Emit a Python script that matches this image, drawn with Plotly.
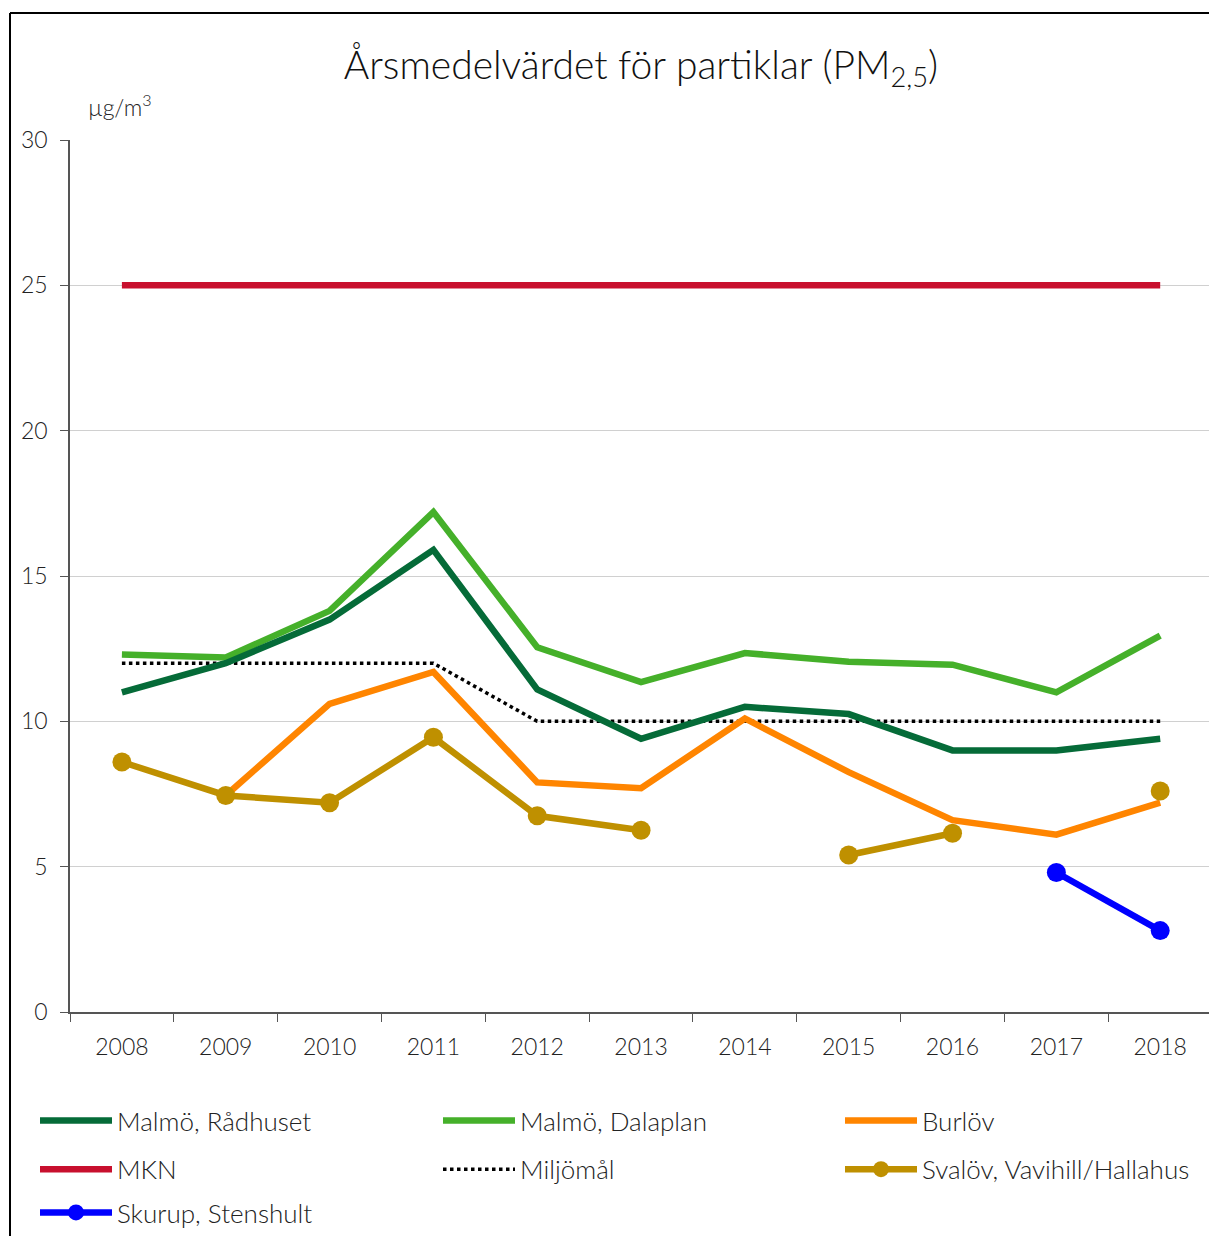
import plotly.graph_objects as go

years = ["2008", "2009", "2010", "2011", "2012", "2013", "2014", "2015", "2016", "2017", "2018"]
radhuset = [11.0, 12.0, 13.5, 15.9, 11.1, 9.4, 10.5, 10.25, 9.0, 9.0, 9.4]
dalaplan = [12.3, 12.2, 13.8, 17.2, 12.55, 11.35, 12.35, 12.05, 11.95, 11.0, 12.95]
burlov = [None, 7.45, 10.6, 11.7, 7.9, 7.7, 10.1, 8.25, 6.6, 6.1, 7.2]
mkn = [25, 25, 25, 25, 25, 25, 25, 25, 25, 25, 25]
miljomal = [12, 12, 12, 12, 10, 10, 10, 10, 10, 10, 10]
svalov = [8.6, 7.45, 7.2, 9.45, 6.75, 6.25, None, 5.4, 6.15, None, 7.6]
skurup = [None, None, None, None, None, None, None, None, None, 4.8, 2.8]

FONT = "Lato"
W, H = 1209, 1236
L, R, T, B = 70, 0, 140, 224
pw, ph = W - L - R, H - T - B

def px(x):
    return (x - L) / pw

def py(y):
    return (H - B - y) / ph

fig = go.Figure()

series = [
    ("Malmö, Rådhuset", radhuset, "#056B38", "solid", False, "legend"),
    ("MKN", mkn, "#C8102E", "solid", False, "legend"),
    ("Skurup, Stenshult", skurup, "#0000FF", "solid", True, "legend4"),
    ("Malmö, Dalaplan", dalaplan, "#45B02A", "solid", False, "legend2"),
    ("Miljömål", miljomal, "#000000", "dot", False, "legend2"),
    ("Burlöv", burlov, "#FF8500", "solid", False, "legend3"),
    ("Svalöv, Vavihill/Hallahus", svalov, "#BF9000", "solid", True, "legend3"),
]

for i in [1, 4, 3, 0, 5, 6, 2]:
    name, vals, col, dash, mk, leg = series[i]
    fig.add_trace(go.Scatter(
        x=years, y=vals, name=name,
        mode="lines+markers" if mk else "lines",
        line=dict(color=col, width=3.5 if dash == "dot" else 6.5, dash=dash),
        marker=dict(size=19, color=col),
        connectgaps=False,
        legend=leg, legendgroup=name, legendrank=i,
    ))

legcommon = dict(
    orientation="v", xanchor="left",
    itemwidth=72, font=dict(family=FONT, size=26, color="#222", weight=300),
    bgcolor="rgba(0,0,0,0)", tracegroupgap=12,
)

fig.update_layout(
    width=W, height=H,
    margin=dict(l=L, r=R, t=T, b=B),
    paper_bgcolor="white", plot_bgcolor="white",
    font=dict(family=FONT, size=22, color="#222", weight=300),
    title=dict(
        text="Årsmedelvärdet för partiklar (PM<sub>2,5</sub>)",
        x=641 / W, xanchor="center", xref="container",
        y=1 - 65 / H, yanchor="middle", yref="container",
        font=dict(family=FONT, size=39, color="#111", weight=300),
    ),
    xaxis=dict(
        type="category", range=[-0.5, 10.47],
        showgrid=False, showline=True, linecolor="#555", linewidth=1.5,
        ticks="outside", tickson="boundaries", ticklen=8, tickcolor="#555",
        ticklabelstandoff=14,
        tickfont=dict(family=FONT, size=23, color="#222", weight=300),
        fixedrange=True,
    ),
    yaxis=dict(
        range=[0, 30], tickvals=[0, 5, 10, 15, 20, 25, 30],
        showgrid=True, gridcolor="#D0D0D0", gridwidth=1,
        showline=True, linecolor="#555", linewidth=1.5,
        ticks="outside", ticklen=8, tickcolor="#555",
        ticklabelstandoff=8,
        tickfont=dict(family=FONT, size=23, color="#222", weight=300),
        zeroline=False, fixedrange=True,
    ),
    legend=dict(x=px(35), y=py(1097), yanchor="top", **legcommon),
    legend2=dict(x=px(438), y=py(1097), yanchor="top", **legcommon),
    legend3=dict(x=px(840), y=py(1097), yanchor="top", **legcommon),
    legend4=dict(x=px(35), y=py(1236), yanchor="bottom", **legcommon),
    annotations=[
        dict(text="µg/m<sup>3</sup>", x=px(86), y=py(105), xref="paper", yref="paper",
             xanchor="left", yanchor="middle", showarrow=False,
             font=dict(family=FONT, size=23, color="#222", weight=300)),
    ],
    shapes=[
        dict(type="line", xref="paper", yref="paper", x0=px(10), x1=px(W + 5),
             y0=py(13), y1=py(13), line=dict(color="black", width=2)),
        dict(type="line", xref="paper", yref="paper", x0=px(10), x1=px(10),
             y0=py(13), y1=py(H + 5), line=dict(color="black", width=2)),
    ],
)

fig.write_html("out.html", post_script="document.body.style.margin='0';",
               config={"displayModeBar": False})
